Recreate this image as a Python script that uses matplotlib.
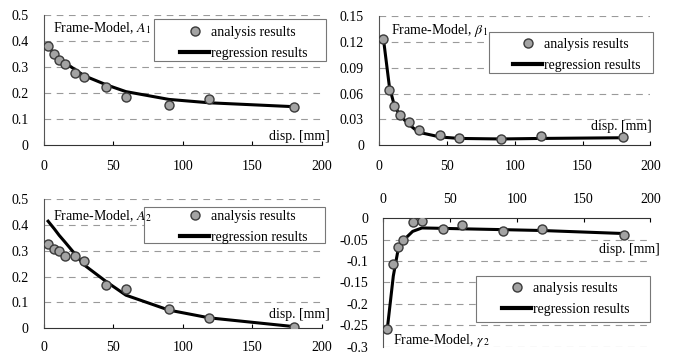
import matplotlib
matplotlib.use("Agg")
import matplotlib.pyplot as plt
from matplotlib.lines import Line2D
from matplotlib.patches import Rectangle

plt.rcParams["font.family"] = ["Liberation Serif", "DejaVu Serif"]
plt.rcParams["mathtext.fontset"] = "stix"
plt.rcParams["font.size"] = 10

W, H = 676, 354

# displacement steps [mm]
disp = [3, 7.5, 11, 15, 22, 29, 45, 59, 90, 119, 180]

# analysis results (markers)
a1_analysis = [0.382, 0.350, 0.329, 0.314, 0.278, 0.262, 0.224, 0.187, 0.153, 0.176, 0.145]
b1_analysis = [0.1233, 0.0646, 0.046, 0.0356, 0.0271, 0.0178, 0.012, 0.0085, 0.0066, 0.0104, 0.0089]
a2_analysis = [0.326, 0.309, 0.298, 0.281, 0.280, 0.260, 0.166, 0.153, 0.075, 0.039, 0.004]
g2_analysis = [-0.258, -0.108, -0.067, -0.0515, -0.010, -0.006, -0.0246, -0.017, -0.031, -0.026, -0.040]

# regression results (curves)
a1_regression = [0.378, 0.352, 0.335, 0.318, 0.292, 0.267, 0.232, 0.206, 0.176, 0.163, 0.148]
b1_regression = [0.125, 0.068, 0.047, 0.035, 0.024, 0.015, 0.0095, 0.0078, 0.0072, 0.0078, 0.0086]
a2_regression = [0.415, 0.385, 0.360, 0.335, 0.290, 0.245, 0.180, 0.128, 0.070, 0.040, 0.006]
g2_regression = [-0.258, -0.135, -0.075, -0.052, -0.031, -0.023, -0.024, -0.025, -0.027, -0.029, -0.036]

a_ticks = [0, 0.1, 0.2, 0.3, 0.4, 0.5]
a_labels = ["0", "0.1", "0.2", "0.3", "0.4", "0.5"]
b_ticks = [0, 0.03, 0.06, 0.09, 0.12, 0.15]
b_labels = ["0", "0.03", "0.06", "0.09", "0.12", "0.15"]
g_ticks = [0, -0.05, -0.1, -0.15, -0.2, -0.25, -0.3]
g_labels = ["0", "-0.05", "-0.1", "-0.15", "-0.2", "-0.25", "-0.3"]
x_ticks = [0, 50, 100, 150, 200]

MARKER_FACE = "#a3a3a3"
MARKER_EDGE = "#3a3a3a"
GRID_COLOR = "#9a9a9a"


def fx(px):
    return px / W


def fy(py):
    return 1 - py / H


def panel(fig, ax, y_an, y_reg, yticks, ylabels, name, name_xy, disp_xy, box, handle_xy,
          top_axis=False, xpad=11):
    ax.plot(disp, y_reg, color="black", lw=2.2, zorder=3)
    ax.plot(disp, y_an, "o", ms=6.5, mfc=MARKER_FACE, mec=MARKER_EDGE, mew=1.0, zorder=4)

    ax.set_xlim(0, 200)
    ax.set_xticks(x_ticks)
    ax.set_yticks(yticks)
    ax.set_yticklabels(ylabels)
    ax.set_ylim(min(yticks), max(yticks))

    for v in yticks:
        if v != 0:
            ax.axhline(v, color=GRID_COLOR, lw=0.8, dashes=(6, 5), zorder=1)

    ax.spines["right"].set_visible(False)
    ax.spines["left"].set_color("#555555")
    if top_axis:
        ax.spines["bottom"].set_visible(False)
        ax.spines["top"].set_color("#333333")
        ax.xaxis.tick_top()
    else:
        ax.spines["top"].set_visible(False)
        ax.spines["bottom"].set_color("#333333")
    ax.tick_params(axis="x", direction="in", length=3, pad=xpad)
    ax.tick_params(axis="y", length=0, pad=11)
    ax.tick_params(labelsize=10)

    # legend frame drawn separately so its size matches the reference
    x0, y0, x1, y1 = box
    ax.add_patch(Rectangle((fx(x0), fy(y1)), fx(x1) - fx(x0), fy(y0) - fy(y1),
                           transform=fig.transFigure, facecolor="white", clip_on=False,
                           edgecolor="#777777", lw=0.8, zorder=4.5))

    handles = [
        Line2D([], [], ls="none", marker="o", ms=6.5, mfc=MARKER_FACE, mec=MARKER_EDGE),
        Line2D([], [], color="black", lw=3),
    ]
    ax.legend(handles, ["analysis results", "regression results"], loc="upper left",
              bbox_to_anchor=(fx(handle_xy[0]), fy(handle_xy[1])), bbox_transform=fig.transFigure,
              borderaxespad=0, borderpad=0, frameon=False, handlelength=2.1,
              handletextpad=0.1, labelspacing=0.6, fontsize=10)

    ax.text(name_xy[0], name_xy[1], name, transform=ax.transAxes, ha="left", va="center", zorder=6)
    ax.text(disp_xy[0], disp_xy[1], "disp. [mm]", transform=ax.transAxes, ha="right", va="center",
            zorder=6)


def main():
    fig = plt.figure(figsize=(6.76, 3.54), dpi=100)

    ax1 = fig.add_axes([0.065, 0.590, 0.411, 0.367])
    ax2 = fig.add_axes([0.561, 0.590, 0.401, 0.364])
    ax3 = fig.add_axes([0.065, 0.073, 0.411, 0.364])
    ax4 = fig.add_axes([0.567, 0.020, 0.395, 0.364])
    for ax in (ax1, ax2, ax3, ax4):
        ax.patch.set_alpha(0)

    panel(fig, ax1, a1_analysis, a1_regression, a_ticks, a_labels, "Frame-Model, $A_{\\,1}$",
          (0.032, 0.90), (1.03, 0.069), (154, 19, 326, 61), (180, 26))
    panel(fig, ax2, b1_analysis, b1_regression, b_ticks, b_labels, "Frame-Model, $\\beta_{\\,1}$",
          (0.044, 0.89), (1.007, 0.147), (489, 32, 653, 73), (513, 38))
    panel(fig, ax3, a2_analysis, a2_regression, a_ticks, a_labels, "Frame-Model, $A_{\\,2}$",
          (0.032, 0.87), (1.03, 0.108), (144, 207, 325, 243), (180, 210), xpad=9)
    panel(fig, ax4, g2_analysis, g2_regression, g_ticks, g_labels, "Frame-Model, $\\gamma_{\\,2}$",
          (0.037, 0.046), (1.034, 0.754), (476, 276, 650, 322), (502, 282), top_axis=True, xpad=9)

    fig.savefig("out.png", dpi=100)


if __name__ == "__main__":
    main()
